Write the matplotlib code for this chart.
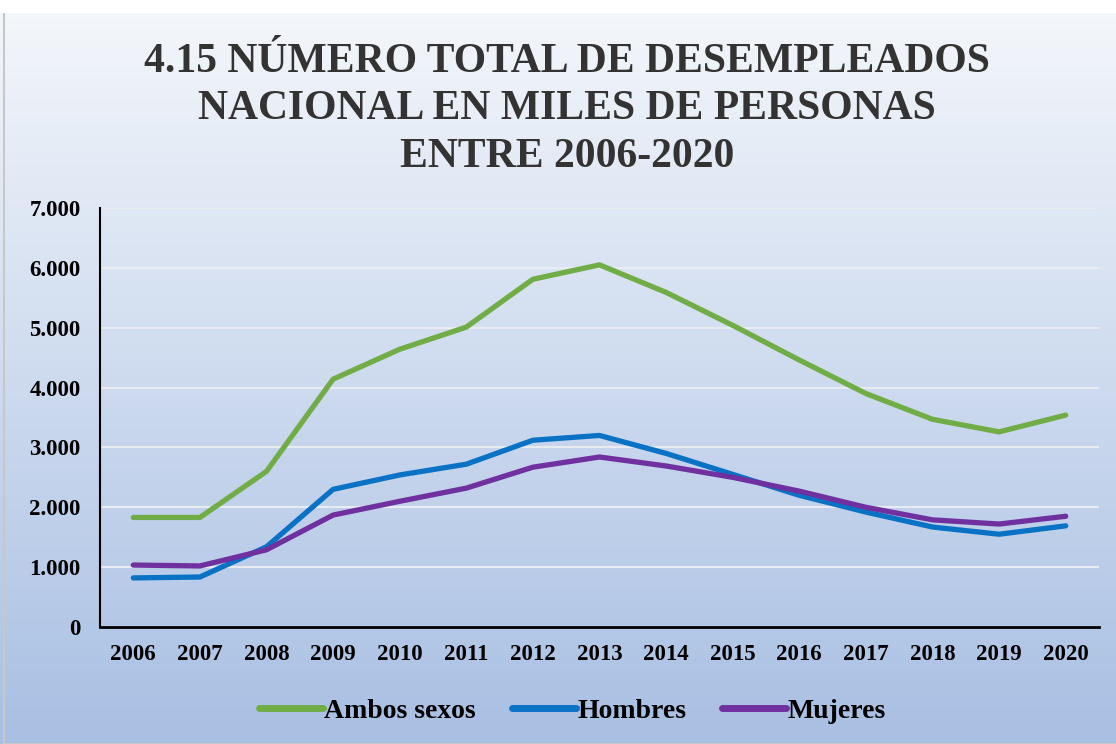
import numpy as np
import matplotlib.pyplot as plt
from matplotlib.ticker import FuncFormatter

# data (miles de personas)
years = ['2006', '2007', '2008', '2009', '2010', '2011', '2012', '2013',
         '2014', '2015', '2016', '2017', '2018', '2019', '2020']
ambos = [1830, 1830, 2600, 4140, 4640, 5010, 5810, 6050, 5590, 5040, 4460, 3900, 3470, 3260, 3540]
hombres = [820, 835, 1340, 2300, 2540, 2720, 3120, 3200, 2900, 2550, 2200, 1920, 1670, 1550, 1690]
mujeres = [1035, 1020, 1290, 1870, 2100, 2320, 2670, 2840, 2690, 2500, 2270, 2000, 1790, 1720, 1850]

plt.rcParams['font.family'] = ['Liberation Serif', 'DejaVu Serif']
plt.rcParams['font.weight'] = 'bold'

fig = plt.figure(figsize=(11.16, 7.44), dpi=100)

# gradient background
bg = fig.add_axes([0, 0, 1, 1])
grad = np.linspace(0, 1, 256).reshape(-1, 1)
top = np.array([0.96, 0.97, 0.985])
bot = np.array([0.66, 0.75, 0.89])
img = top + (bot - top) * grad[:, :, None] * np.ones((1, 2, 1))
bg.imshow(img, aspect='auto', extent=[0, 1, 0, 1], origin='upper')
bg.add_patch(plt.Rectangle((0.004, 0.0), 1.0, 0.984, fill=False, edgecolor='#c8c8c8', lw=1.5))
bg.fill_between([0, 1], 0.984, 1.0, color='white')
bg.set_xlim(0, 1)
bg.set_ylim(0, 1)
bg.axis('off')

ax = fig.add_axes([100 / 1116, 117 / 744, 999 / 1116, 419 / 744])
ax.patch.set_alpha(0)
x = np.arange(len(years))
ax.plot(x, ambos, color='#70AD47', lw=3.8, label='Ambos sexos', solid_capstyle='round')
ax.plot(x, hombres, color='#0A72C4', lw=3.8, label='Hombres', solid_capstyle='round')
ax.plot(x, mujeres, color='#7030A0', lw=3.8, label='Mujeres', solid_capstyle='round')

ax.set_xlim(-0.5, len(years) - 0.5)
ax.set_ylim(0, 7000)
ax.set_xticks(x)
ax.set_xticklabels(years)
ax.set_yticks(range(0, 7001, 1000))
ax.yaxis.set_major_formatter(FuncFormatter(lambda v, p: '0' if v == 0 else f'{int(v):,}'.replace(',', '.')))
ax.grid(axis='y', color='#e8ebf0', lw=1.5)
ax.set_axisbelow(True)
for s in ['top', 'right']:
    ax.spines[s].set_visible(False)
ax.spines['left'].set_linewidth(1.5)
ax.spines['bottom'].set_linewidth(2)
ax.tick_params(length=0, labelsize=16.5, pad=12)
ax.tick_params(axis='y', pad=14)

fig.text(0.508, 0.853, '4.15 NÚMERO TOTAL DE DESEMPLEADOS\nNACIONAL EN MILES DE PERSONAS\nENTRE 2006-2020',
         ha='center', va='center', fontsize=30, fontweight='bold', color='#333333', linespacing=1.33)

leg = fig.legend(loc='center', bbox_to_anchor=(0.513, 0.044), ncol=3, frameon=False, fontsize=20,
                 handlelength=2.3, handletextpad=0.05, columnspacing=1.3)
for h in leg.get_lines():
    h.set_linewidth(5)

fig.savefig('out.png', dpi=100)
